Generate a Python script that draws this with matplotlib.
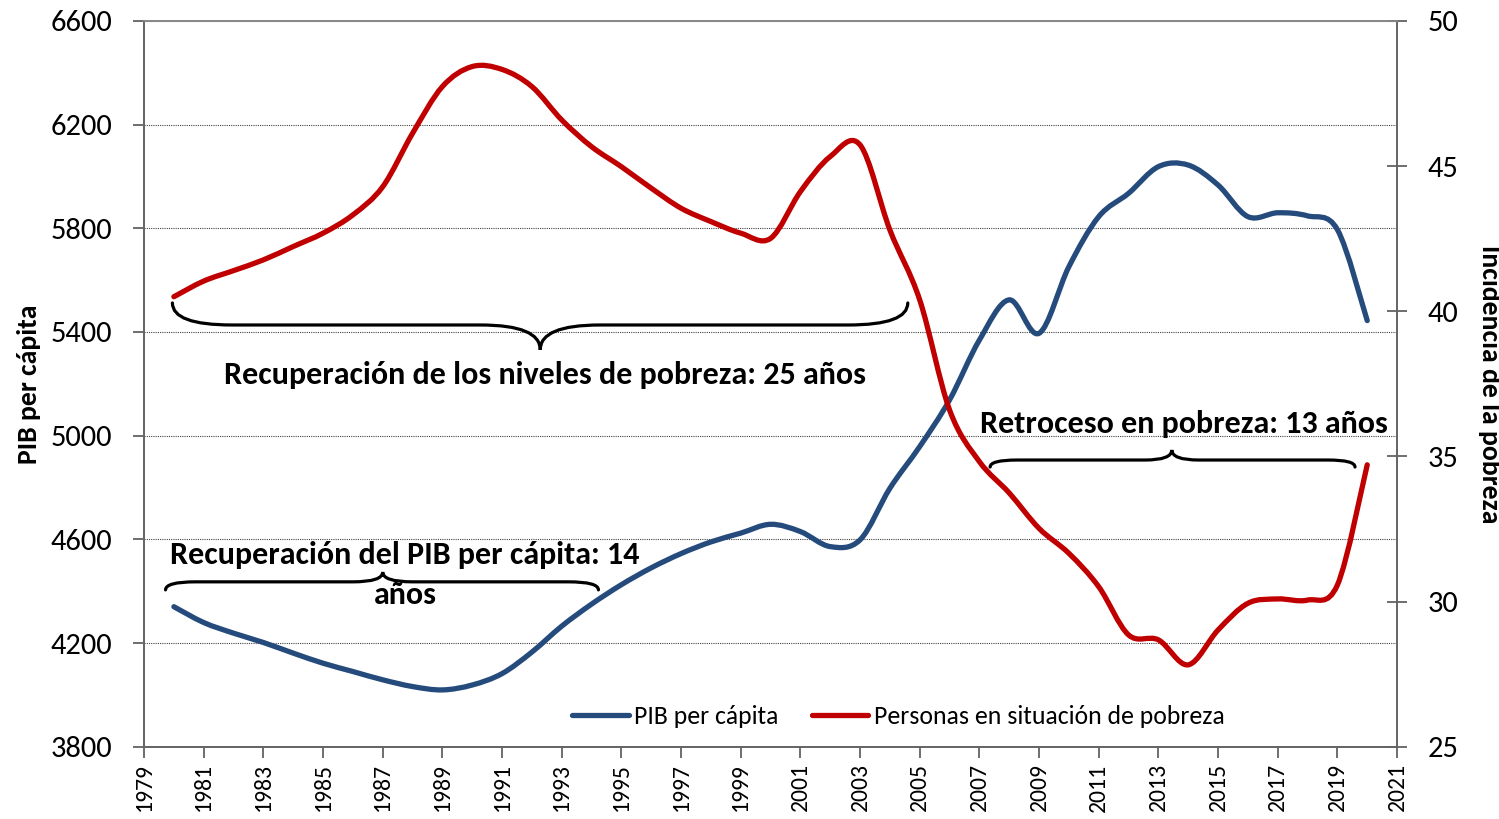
import matplotlib
matplotlib.use("Agg")
import matplotlib.pyplot as plt
from matplotlib.path import Path
from matplotlib.patches import PathPatch
from matplotlib.lines import Line2D
import numpy as np

plt.rcParams['font.family'] = ['Carlito', 'DejaVu Sans']

years = list(range(1980, 2021))
pib = [4340, 4279, 4238, 4202, 4161, 4122, 4090, 4058, 4032, 4019,
       4038, 4082, 4165, 4265, 4350, 4425, 4490, 4545, 4590, 4624,
       4658, 4630, 4572, 4598, 4797, 4958, 5138, 5369, 5524, 5395,
       5652, 5845, 5935, 6038, 6044, 5967, 5845, 5860, 5848, 5795,
       5444]
pobreza = [40.50, 41.04, 41.40, 41.77, 42.23, 42.69, 43.32, 44.29, 46.13, 47.74,
           48.43, 48.33, 47.74, 46.59, 45.67, 44.98, 44.24, 43.55, 43.09, 42.69,
           42.51, 44.12, 45.33, 45.73, 42.80, 40.39, 36.60, 34.82, 33.74, 32.52,
           31.66, 30.51, 28.85, 28.68, 27.82, 29.02, 29.94, 30.09, 30.05, 30.57,
           34.71]

xticks = list(range(1979, 2022, 2))
yticks_left = [3800, 4200, 4600, 5000, 5400, 5800, 6200, 6600]
yticks_right = [25, 30, 35, 40, 45, 50]

azul = '#254B7D'
rojo = '#C00000'


def smooth_path(x, y):
    # Excel-like smoothed line: Catmull-Rom segments as cubic Bezier
    x = np.asarray(x, float)
    y = np.asarray(y, float)
    verts = [(x[0], y[0])]
    codes = [Path.MOVETO]
    n = len(x)
    for i in range(n - 1):
        i0, i3 = max(i - 1, 0), min(i + 2, n - 1)
        c1 = (x[i] + (x[i + 1] - x[i0]) / 6, y[i] + (y[i + 1] - y[i0]) / 6)
        c2 = (x[i + 1] - (x[i3] - x[i]) / 6, y[i + 1] - (y[i3] - y[i]) / 6)
        verts += [c1, c2, (x[i + 1], y[i + 1])]
        codes += [Path.CURVE4] * 3
    return Path(verts, codes)


def brace(ax, x0, xm, x1, y_end, y_flat, y_tip, d=0.9):
    v = [(x0, y_end), (x0, y_flat), (x0 + d, y_flat),
         (xm - d, y_flat), (xm, y_flat), (xm, y_tip),
         (xm, y_flat), (xm + d, y_flat),
         (x1 - d, y_flat), (x1, y_flat), (x1, y_end)]
    c = [Path.MOVETO, Path.CURVE3, Path.CURVE3,
         Path.LINETO, Path.CURVE3, Path.CURVE3,
         Path.CURVE3, Path.CURVE3,
         Path.LINETO, Path.CURVE3, Path.CURVE3]
    ax.add_patch(PathPatch(Path(v, c), fill=False, lw=2.3, color='black',
                           capstyle='round', zorder=5))


fig = plt.figure(figsize=(14.99, 8.19), dpi=100)
ax = fig.add_axes([0.0961, 0.0883, 0.8359, 0.8861])
ax2 = ax.twinx()

ax.add_patch(PathPatch(smooth_path(years, pib), fill=False, lw=3.8, color=azul,
                       capstyle='round', zorder=3))
ax2.add_patch(PathPatch(smooth_path(years, pobreza), fill=False, lw=3.8, color=rojo,
                        capstyle='round', zorder=3))

ax.set_xlim(1979, 2021)
ax.set_ylim(3800, 6600)
ax2.set_ylim(25, 50)
ax.set_xticks(xticks)
ax.set_xticklabels([str(t) for t in xticks], rotation=90, fontsize=17)
ax.set_yticks(yticks_left)
ax.set_yticklabels([str(t) for t in yticks_left], fontsize=22)
ax2.set_yticks(yticks_right)
ax2.set_yticklabels([str(t) for t in yticks_right], fontsize=22)

ax.yaxis.grid(True, linestyle=(0, (1, 1)), color='#444444', lw=0.8)
ax.set_axisbelow(True)
ax.tick_params(axis='y', direction='out', length=8, width=1.2, color='#555555', pad=15)
ax.tick_params(axis='x', direction='out', length=8, width=1.2, color='#555555', pad=4)
ax2.tick_params(axis='y', direction='inout', length=14, width=1.2, color='#555555', pad=15)

for a in (ax, ax2):
    for s in a.spines.values():
        s.set_color('#666666')
        s.set_linewidth(1.3)
ax.spines['top'].set_color('#888888')
ax2.spines['top'].set_color('#888888')

ax.set_ylabel('PIB per cápita', fontsize=20, fontweight='bold', labelpad=7)
ax2.set_ylabel('Incidencia de la pobreza', fontsize=20, fontweight='bold',
               rotation=-90, labelpad=31)

# annotations on left axis coordinates
brace(ax, 1979.95, 1992.28, 2004.6, 5512, 5427, 5331, d=2.0)
ax.text(1992.45, 5234, 'Recuperación de los niveles de pobreza: 25 años',
        ha='center', va='center', fontsize=23, fontweight='bold', zorder=6)

brace(ax, 1979.72, 1987.0, 1994.23, 4405, 4436, 4474, d=1.0)
ax.text(1987.75, 4540, 'Recuperación del PIB per cápita: 14',
        ha='center', va='center', fontsize=23, fontweight='bold', zorder=6)
ax.text(1987.75, 4385, 'años', ha='center', va='center', fontsize=23,
        fontweight='bold', zorder=6)

brace(ax, 2007.36, 2013.45, 2019.59, 4879, 4906, 4945, d=0.9)
ax.text(2013.86, 5045, 'Retroceso en pobreza: 13 años', ha='center', va='center',
        fontsize=23, fontweight='bold', zorder=6)

handles = [Line2D([], [], color=azul, lw=3.8, solid_capstyle='round'),
           Line2D([], [], color=rojo, lw=3.8, solid_capstyle='round')]
ax.legend(handles, ['PIB per cápita', 'Personas en situación de pobreza'],
          loc='center', bbox_to_anchor=(0.602, 0.042), ncol=2, frameon=False,
          fontsize=18.5, handlelength=2.2, handletextpad=0.2, columnspacing=1.3)

fig.savefig('out.png', dpi=100)
